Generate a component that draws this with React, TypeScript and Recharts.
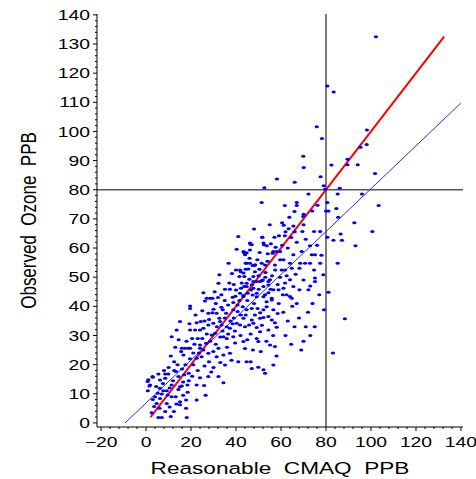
import React from 'react';
import { ScatterChart, Scatter, XAxis, YAxis, ReferenceLine, Label } from 'recharts';

// Observed ozone (y) vs reasonable CMAQ (x), grouped by model band
const bandUnder20: [number, number][] = [
  [1, 14.8], [3, 15.7], [1.5, 12.7], [0.8, 11], [2.9, 15.9], [0.7, 14.2], [1.8, 13], [5.5, 16.8], [8.5, 16.8], [9.9, 16.8],
  [6.2, 14.7], [8.5, 15.3], [13.3, 17.6], [14.4, 15.9], [18.4, 13], [11.4, 13], [15.1, 12.4], [15.9, 12.7], [6.2, 11.9], [5.2, 10.2],
  [7, 9.9], [7.7, 11], [9.2, 11], [14.4, 11.5], [13.2, 9], [9.6, 9.6], [11.4, 9], [4, 9], [6.2, 8.4], [4.7, 6.7],
  [3.6, 5.6], [9.2, 6.7], [8.5, 3.9], [15.1, 7.3], [17.8, 7.9], [15.1, 6.2], [12.4, 3.9], [17.8, 5], [18.1, 1.9], [5.5, 1.9],
  [7, 1.9], [15.1, 34.8], [19.3, 34], [13.6, 31.9], [19.6, 31.9], [11.4, 29.6], [15.9, 25.6], [17.3, 25.6], [18.8, 25.6], [19.6, 25.6],
  [15.6, 24.5], [16.6, 23.3], [19.6, 40.1], [19.6, 39.3], [10.5, 12], [12, 14.5], [16.5, 14], [10, 19], [12.5, 21], [14, 20],
  [16, 18.5], [17.5, 20], [19, 17], [11, 23], [13, 26], [7.5, 13.5], [4.5, 12.5], [3, 8], [6, 5], [10.5, 5.5],
  [13.5, 6.5], [16.5, 9.5], [18.5, 10.5], [19.5, 22], [18, 28], [14.5, 28.5], [2.5, 3.5], [11, 2.2], [8, 18], [12.5, 18],
  [17, 16.5], [19, 14.5],
];

const band20to40: [number, number][] = [
  [25.5, 44.7], [27, 42.8], [28.5, 42.8], [29.5, 42.8], [26.2, 41.8], [38.5, 43.1], [39.7, 43.5], [38.8, 41.3], [27.7, 37.6], [29.5, 37.8],
  [31.4, 37.6], [33.5, 39.7], [34.1, 38.8], [35.6, 37.6], [38.8, 38.8], [22.5, 34.4], [24.3, 34.8], [27.7, 33.6], [29.9, 34.2], [32.6, 35.9],
  [32.9, 34.8], [33.6, 33.6], [35.9, 33], [37.3, 32.5], [21.8, 31.9], [24, 31.9], [25.5, 32.5], [29.2, 30.2], [30.7, 30.8], [34.4, 29.6],
  [35.9, 29], [38.8, 29.6], [39.6, 27.4], [24, 26.7], [24, 25.6], [25.5, 25], [26.7, 27.3], [27.7, 23.9], [29.9, 24.5], [32.2, 25.6],
  [31.4, 22.7], [34.4, 23.3], [37.3, 23.9], [33, 20.7], [35.1, 19.9], [24.7, 22.7], [22.5, 22.2], [22.5, 13], [25.8, 12.8], [27.7, 15.9],
  [32.2, 15.9], [34.4, 13.8], [22.5, 7.9], [36.7, 54.8], [38.2, 51.3], [32.6, 50.8], [32.2, 47.9], [35.1, 45.9], [37.3, 45.9], [21, 20],
  [23, 18], [26, 19.5], [28, 21], [30, 19], [21.5, 27], [23, 29], [28.5, 28], [31, 27], [33, 29.5], [36, 26],
  [37.5, 35], [39, 36], [31, 41], [35, 42], [22, 37], [25, 38.5], [30.5, 45], [36.5, 40.5], [20.5, 16], [26.5, 9.5],
  [24, 15.5], [29, 17.5], [38, 21.5], [39.5, 31.5], [33.5, 44], [27, 30.5], [35, 36], [23.5, 24], [31.5, 33], [21, 24],
  [25, 29], [28, 35.5], [30, 39], [34, 31.5], [36.5, 30.5], [38.5, 34], [26, 35], [32, 43], [37, 48], [39, 47.5],
  [20.5, 29],
];

const band40to60: [number, number][] = [
  [51.7, 63.7], [57.1, 63.7], [46.5, 61.3], [52.4, 61.1], [57.6, 60.3], [40.3, 59.6], [46.2, 59.3], [43.6, 58.4], [44.7, 58.4], [54.1, 58],
  [56.3, 58.2], [44.3, 54.8], [47.4, 54], [48.2, 54], [51.4, 54.8], [52.9, 54.2], [57.3, 54.2], [40, 52.5], [42.1, 51.9], [44.3, 52.7],
  [48.4, 51.9], [50.4, 52.7], [53.1, 51.6], [41.5, 50.2], [43.7, 50.2], [45.9, 49.3], [47.7, 48.5], [49.2, 48.5], [50.7, 48.5], [51.9, 49],
  [54.4, 48.5], [40, 45.6], [42.2, 46.2], [43.6, 46.8], [44.7, 47.9], [46.7, 45.6], [47.7, 46.2], [50.1, 45.9], [52.2, 46.8], [54.4, 47.3],
  [55.4, 45.9], [54.4, 44.7], [43.3, 43.7], [45.2, 44.5], [47.4, 43.9], [49.2, 43.3], [52.2, 43.3], [53.6, 41.6], [55.9, 42.2], [40.7, 40.5],
  [43, 39.9], [44.7, 38.8], [47, 39.3], [49.6, 39.3], [50.7, 37.8], [52.2, 38.8], [53.6, 39.9], [56.6, 38.8], [40.7, 38.2], [42.1, 37],
  [43.3, 35.9], [44.3, 37], [47, 35.3], [48.4, 37], [50.7, 35.9], [52.2, 36.2], [54.4, 36.5], [55.9, 35.3], [57.3, 34.4], [40.3, 34.2],
  [41.8, 33.6], [45.8, 33.6], [47.7, 34.2], [49.2, 32.7], [50.7, 31.3], [54.4, 31.9], [58.1, 32.8], [43.3, 27.9], [49.2, 29], [49.9, 27.9],
  [55.1, 26.7], [57.3, 26.2], [41, 21], [44.7, 21], [46.5, 21], [56.6, 19.9], [52.2, 18.2], [52.9, 17], [49.9, 19.1], [47, 18.7],
  [52.6, 80.7], [51.4, 75.6], [51.6, 63.7], [52.2, 61.7], [53.7, 60.8], [56.6, 58.8], [58.1, 58.8], [59.6, 58.8], [46.2, 61.7], [47, 61.1],
  [43.3, 58.8], [44, 57.7], [59.6, 56], [44.8, 54.8], [46.2, 54.8], [48.5, 54.3], [41.8, 52.5], [43.3, 51.4], [45.5, 52.8], [47.7, 50.2],
  [57.4, 52.5], [51.4, 48.8], [55.1, 49.1], [59.6, 50], [44.8, 46.8], [47, 47.4], [56.6, 45.7], [58.9, 45.7], [49.2, 44.5], [52.9, 44],
  [55.9, 42.8], [41.8, 44.5], [43.3, 43.4], [58.2, 83.7], [59.1, 64.2], [42, 30], [45, 28.5], [47.5, 25], [51, 24.5], [53.5, 28],
  [58.5, 37.5], [59, 41], [41, 64], [48, 66.5], [55, 68], [44, 25.5], [58, 23], [50.5, 58.5], [56, 50.5], [42.5, 48],
  [45, 42], [48, 41], [50, 50.5], [53, 50], [46, 56.5], [49.5, 56], [54, 55.5], [41.5, 42], [44, 33], [46.5, 30.5],
  [51.5, 33.5], [56.5, 30], [58.5, 47.5], [55.5, 61.5],
];

const band60to80: [number, number][] = [
  [72.2, 78.5], [61.7, 74.6], [67, 75.6], [67, 74.6], [76.2, 74.7], [63.7, 70.6], [70.1, 71.6], [69.9, 70.8], [73.9, 72.7], [60.5, 68.7],
  [61.2, 67.8], [65.5, 67.6], [63.4, 66.6], [62, 65.6], [66.1, 65.6], [69.5, 65.7], [74.7, 65.7], [77.4, 65.7], [61.7, 64.2], [64.5, 63.6],
  [65.5, 57.7], [69.2, 58.8], [73.7, 57.7], [75.1, 57.7], [72.9, 60.8], [61.1, 56], [64, 54.8], [68.5, 54.8], [70.7, 54.8], [72.9, 54.8],
  [77.4, 54.8], [60.3, 52.5], [61.8, 52.5], [64.8, 53.1], [68.2, 53.1], [74.7, 52.5], [78.8, 50.8], [61.8, 48], [64, 49.1], [65.5, 46.8],
  [75.1, 49.7], [75.1, 48.5], [61.1, 46.2], [72.2, 45.7], [68.2, 45.7], [60.8, 44], [62.5, 44], [64, 43.4], [64.8, 42.8], [75.9, 101.6],
  [78.2, 97.6], [69.9, 91.5], [70.1, 87.6], [77.6, 84.5], [66.1, 82.6], [79, 81.4], [79.6, 80.2], [61, 38], [63, 35], [65, 40],
  [66, 33], [68, 36], [70, 28], [72, 38], [74, 41], [62, 30], [64.5, 27], [75, 33], [79.1, 38.8], [67, 41],
  [71, 33], [77, 44], [69, 25], [73, 30], [63, 60], [67, 62], [71, 63], [76, 61], [62.5, 50.5], [66.5, 51],
  [70, 49], [73, 47], [78, 57.5], [66, 72.5], [70, 68], [60.5, 61],
];

const bandOver80: [number, number][] = [
  [80.6, 115.6], [83.4, 113.5], [98.2, 100.5], [98.1, 95.5], [95.3, 94.6], [89.6, 90.5], [89.5, 88.6], [94.1, 88.6], [82.4, 88.5], [101.8, 85.6],
  [86.1, 80.5], [85.2, 78.5], [96, 78.5], [80.6, 75.6], [103.4, 74.6], [84.6, 73.6], [80, 72.7], [81.1, 72.7], [85.4, 70.6], [92.6, 68.7],
  [100.6, 65.7], [86.5, 64.8], [80.6, 63.7], [83.3, 62.7], [87.1, 62.7], [93.1, 60.8], [85.2, 54.8], [81.1, 44.8], [102.2, 132.5], [83.1, 24],
  [88.4, 35.7],
];

// Fitted lines (endpoints in data units)
const oneToOneLine = [{ x: 2, y: 2 }, { x: 132.5, y: 132.5 }];
const regressionLine = [{ x: -9.3, y: 0 }, { x: 139.9, y: 109.7 }];

// Axes
const xDomain: [number, number] = [-21.8, 140.9];
const yDomain: [number, number] = [-1.4, 140.3];
const xTicks: number[] = [];
for (let v = -20; v <= 140; v += 4) xTicks.push(v);
const yTicks: number[] = [];
for (let v = 0; v <= 140; v += 2) yTicks.push(v);

const criterionX = 80;
const criterionY = 80;

const points = [...bandUnder20, ...band20to40, ...band40to60, ...band60to80, ...bandOver80].map(([x, y]) => ({ x, y }));

const FONT = 'Liberation Sans, Arial, Helvetica, sans-serif';
const STRETCH = 1.38;

const YTick = (props: any) => {
  const { x, y, payload } = props;
  const v = payload.value;
  const major = v % 10 === 0;
  return (
    <g>
      <line x1={x - (major ? 4 : 2)} x2={x} y1={y} y2={y} stroke="#000" strokeWidth={1} />
      {major && (
        <text transform={`translate(${x - 7},${y}) scale(${STRETCH},1)`} textAnchor="end" dy="0.36em" fontSize={14} fontFamily={FONT} fill="#000">
          {v}
        </text>
      )}
    </g>
  );
};

const XTick = (props: any) => {
  const { x, y, payload } = props;
  const v = payload.value;
  const major = v % 20 === 0;
  const label = v < 0 ? '\u2212' + Math.abs(v) : String(v);
  return (
    <g>
      <line x1={x} x2={x} y1={y} y2={y + (major ? 4 : 2)} stroke="#000" strokeWidth={1} />
      {major && (
        <text transform={`translate(${x},${y + 19.5}) scale(${STRETCH},1)`} textAnchor="middle" fontSize={14} fontFamily={FONT} fill="#000">
          {label}
        </text>
      )}
    </g>
  );
};

const XLabel = (props: any) => {
  const vb = props.viewBox || { x: 97, y: 427, width: 366, height: 52 };
  const cx = vb.x + vb.width / 2;
  return (
    <text transform={`translate(${cx},${vb.y + 47}) scale(1.33,1)`} textAnchor="middle" fontSize={17} fontFamily={FONT} fill="#000" style={{ whiteSpace: 'pre' }}>
      {'Reasonable  CMAQ  PPB'}
    </text>
  );
};

const YLabel = (props: any) => {
  const vb = props.viewBox || { x: 0, y: 14, width: 97, height: 413 };
  const cy = vb.y + vb.height / 2;
  return (
    <text transform={`translate(${vb.x + 36},${cy}) scale(1.3,1) rotate(-90)`} textAnchor="middle" fontSize={17} fontFamily={FONT} fill="#000" style={{ whiteSpace: 'pre' }}>
      {'Observed  Ozone  PPB'}
    </text>
  );
};

const Dot = (props: any) => {
  const { cx, cy } = props;
  if (cx == null || cy == null) return null;
  return <ellipse cx={cx} cy={cy} rx={2.1} ry={1.5} fill="#0000ff" />;
};

export default function App() {
  return (
    <div style={{ position: 'absolute', left: 0, top: 0, background: '#fff' }}>
      <ScatterChart width={476} height={479} margin={{ top: 14, right: 13, bottom: 0, left: 0 }}>
        <XAxis
          dataKey="x"
          type="number"
          domain={xDomain}
          allowDataOverflow
          ticks={xTicks}
          interval={0}
          tickSize={0}
          tickMargin={0}
          tickLine={false}
          tick={<XTick />}
          height={52}
          axisLine={{ stroke: '#000', strokeWidth: 1 }}
        >
          <Label content={<XLabel />} />
        </XAxis>
        <YAxis
          dataKey="y"
          type="number"
          domain={yDomain}
          allowDataOverflow
          ticks={yTicks}
          interval={0}
          tickSize={0}
          tickMargin={0}
          tickLine={false}
          tick={<YTick />}
          width={97}
          axisLine={{ stroke: '#000', strokeWidth: 1 }}
        >
          <Label content={<YLabel />} />
        </YAxis>
        <XAxis xAxisId="top" orientation="top" type="number" domain={xDomain} allowDataOverflow height={0} tick={false} tickLine={false} axisLine={{ stroke: '#888', strokeWidth: 1.5 }} />
        <YAxis yAxisId="right" orientation="right" type="number" domain={yDomain} allowDataOverflow width={0} tick={false} tickLine={false} axisLine={{ stroke: '#222', strokeWidth: 1.5 }} />
        <Scatter data={points} shape={<Dot />} isAnimationActive={false} />
        <ReferenceLine x={criterionX} stroke="#222" strokeWidth={1.2} />
        <ReferenceLine y={criterionY} stroke="#555" strokeWidth={1.5} />
        <ReferenceLine segment={regressionLine} stroke="#2a2aff" strokeWidth={1} />
        <ReferenceLine segment={oneToOneLine} stroke="#ff0000" strokeWidth={2} />
      </ScatterChart>
    </div>
  );
}
